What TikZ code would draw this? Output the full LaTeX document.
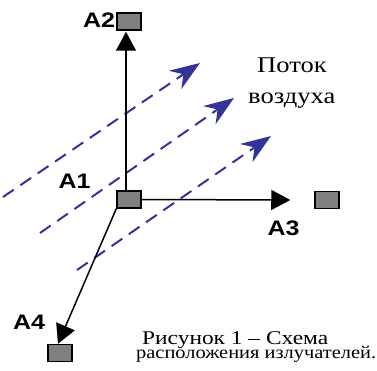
\documentclass[tikz,border=0pt]{standalone}
\usepackage{fontspec}
\setmainfont{Liberation Serif}
\newfontfamily\labelfont{Liberation Sans}
\usetikzlibrary{arrows.meta}
\definecolor{sensorgray}{RGB}{128,128,128}
\definecolor{flowblue}{RGB}{51,51,153}
% horizontally widened text
\newcommand{\widetext}[2]{\scalebox{#1}[1]{#2}}
% lines set closer than their glyphs' height
\newcommand{\tightlines}{\lineskiplimit=-100pt\relax\lineskip=0pt\relax}
\begin{document}
\begin{tikzpicture}[x=1pt,y=-1pt,
  sensor/.style={draw=black, fill=sensorgray, line width=1.5pt,
    minimum width=24pt, minimum height=17pt, inner sep=0pt},
  axisline/.style={line width=1.5pt, -{Triangle[length=19pt,width=20pt]}},
  flow/.style={draw=flowblue, line width=2pt, dash pattern=on 13pt off 8pt,
    -{Stealth[length=30pt,width=22pt,inset=10pt]}},
  lab/.style={font=\labelfont\bfseries\fontsize{21}{24}\selectfont, inner sep=0pt},
  txt/.style={inner sep=0pt, anchor=base west}]
\useasboundingbox (0,0) rectangle (377,371);

% air flow
\coordinate (f1s) at (3,197);   \coordinate (f1e) at (200,63);
\coordinate (f2s) at (40,233);  \coordinate (f2e) at (234,98);
\coordinate (f3s) at (77,270);  \coordinate (f3e) at (271,136);
\draw[flow] (f1s) -- (f1e);
\draw[flow] (f2s) -- (f2e);
\draw[flow] (f3s) -- (f3e);

% emitters
\node[sensor] (a2) at (129,21.5) {};
\node[sensor] (a1) at (129,199.5) {};
\node[sensor] (a3) at (327,200) {};
\node[sensor] (a4) at (60,353) {};

% directions from A1
\draw[axisline] ([xshift=-3pt]a1.north) -- ([xshift=-3pt,yshift=-1pt]a2.south);
\draw[axisline] (a1.east) -- ([xshift=-24pt]a3.west);
\draw[axisline] (a1.south west) -- ([xshift=-2pt]a4.north);

% labels
\node[lab] (l2) at (99,20.5) {\widetext{1.19}{A2}};
\node[lab] (l1) at (74.5,181.5) {\widetext{1.19}{A1}};
\node[lab] (l3) at (283.5,228.5) {\widetext{1.19}{A3}};
\node[lab] (l4) at (29,322.5) {\widetext{1.19}{A4}};

\node[txt, font=\fontsize{22.5}{26}\selectfont] (t1) at (257,73) {\widetext{1.18}{Поток}};
\node[txt, font=\fontsize{22.5}{26}\selectfont] (t2) at (248,104) {\widetext{1.18}{воздуха}};

% caption, two tightly set lines (base anchor sits on the last line)
\node[txt, align=left, font=\fontsize{18}{13.5}\selectfont\tightlines]
  (cap) at (136,358)
  {\hspace*{6pt}\widetext{1.2}{\fontsize{19.5}{13.5}\selectfont Рисунок 1 – Схема}\\
   \widetext{1.135}{расположения излучателей.}};
\end{tikzpicture}
\end{document}
